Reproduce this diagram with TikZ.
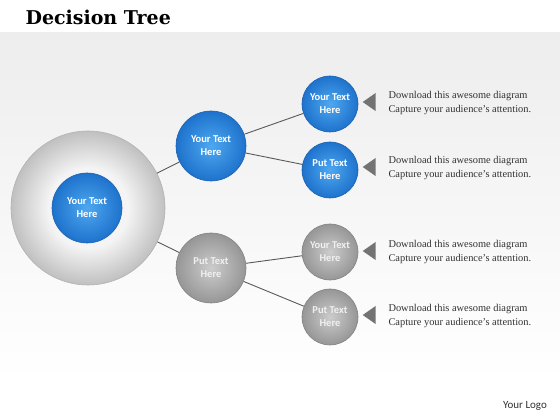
\documentclass[tikz,border=0pt]{standalone}
\usepackage{fontspec}
\setmainfont{Liberation Serif}
\newfontfamily\titlefont{DejaVu Serif}
\newfontfamily\ballfont{Carlito}
\usetikzlibrary{shapes.geometric}
\definecolor{MyBlueIn}{RGB}{78, 168, 240}
\definecolor{MyBlueOut}{RGB}{30, 114, 204}
\definecolor{MyBlueLine}{RGB}{28, 98, 176}
\definecolor{MyGrayIn}{RGB}{204, 204, 204}
\definecolor{MyGrayOut}{RGB}{150, 150, 150}
\definecolor{MyGrayLine}{RGB}{130, 130, 130}
\definecolor{RingLight}{RGB}{244, 244, 244}
\definecolor{RingDark}{RGB}{192, 192, 192}
\definecolor{MyText}{RGB}{50, 50, 50}
\pgfdeclareradialshading{ring}{\pgfpoint{0bp}{0bp}}{color(0bp)=(RingLight); color(13bp)=(RingLight); color(25bp)=(RingDark); color(50bp)=(RingDark)}

\begin{document}
\begin{tikzpicture}[x=1pt, y=1pt,
  bluebal/.style={circle, draw=MyBlueLine, line width=0.6pt, inner color=MyBlueIn, outer color=MyBlueOut,
    text=white, font=\ballfont\bfseries\fontsize{10.5}{13}\selectfont, align=center, inner sep=0pt},
  graybal/.style={circle, draw=MyGrayLine, line width=0.6pt, inner color=MyGrayIn, outer color=MyGrayOut,
    text=white!88!gray, font=\ballfont\bfseries\fontsize{10.5}{13}\selectfont, align=center, inner sep=0pt},
  link/.style={draw=black!65, line width=0.9pt},
  pointer/.style={isosceles triangle, isosceles triangle apex angle=70, shape border rotate=180,
    fill=black!55, inner sep=0pt, minimum height=13pt},
  caption/.style={anchor=west, align=left, text=MyText, font=\fontsize{10.4}{13.5}\selectfont}]
\useasboundingbox (0,0) rectangle (560,420);
% background
\fill[white] (0,0) rectangle (560,420);
\shade[top color=black!7, bottom color=white] (0,40) rectangle (560,387);
\node[anchor=west, font=\titlefont\bfseries\fontsize{19}{22}\selectfont] (title) at (22,403) {Decision Tree};
\node[text=MyText, font=\ballfont\fontsize{11}{13}\selectfont] (logo) at (525,14) {Your Logo};

% root
\node[circle, draw=black!30, line width=0.6pt, shading=ring, minimum size=154pt] (big) at (88,212) {};
\node[bluebal, minimum size=70pt] (root) at (87,212) {Your Text\\Here};

% second level
\node[bluebal, minimum size=70pt] (midA) at (211,274) {Your Text\\Here};
\node[graybal, minimum size=70pt] (midB) at (211,152) {Put Text\\Here};
\draw[link] (big) -- (midA);
\draw[link] (big) -- (midB);

% leaves
\node[bluebal, minimum size=56pt] (leafA) at (330,316) {Your Text\\Here};
\node[bluebal, minimum size=56pt] (leafB) at (330,250) {Put Text\\Here};
\node[graybal, minimum size=56pt] (leafC) at (330,168) {Your Text\\Here};
\node[graybal, minimum size=56pt] (leafD) at (330,103) {Put Text\\Here};
\draw[link] (midA) -- (leafA);
\draw[link] (midA) -- (leafB);
\draw[link] (midB) -- (leafC);
\draw[link] (midB) -- (leafD);

% captions
\foreach \n/\y in {1/318, 2/253, 3/169, 4/105}{
  \node[pointer] (tri\n) at (371,\y) {};
  \node[caption] (cap\n) at (385,\y-1) {Download this awesome diagram\\Capture your audience's attention.};
}
\end{tikzpicture}
\end{document}
